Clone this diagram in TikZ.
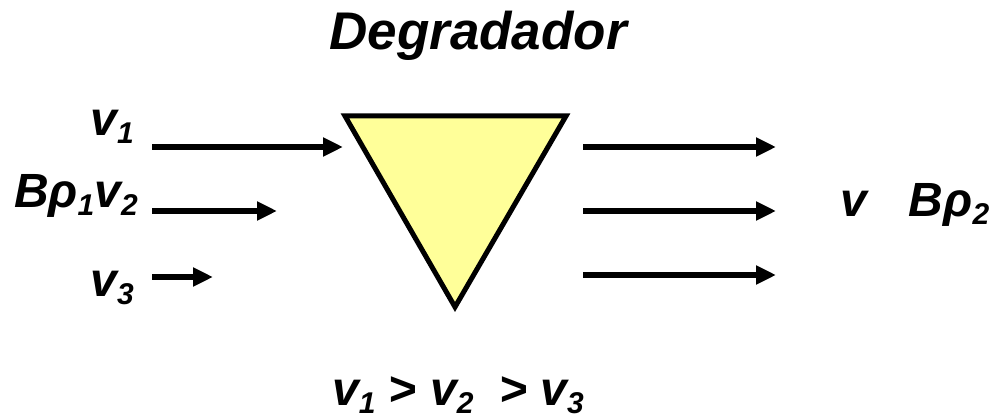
\documentclass[tikz,border=0pt]{standalone}
\usepackage{fontspec}
\setmainfont{Liberation Sans}
\usetikzlibrary{arrows.meta}
\definecolor{degyellow}{HTML}{FFFF99}
\newcommand{\sbx}[1]{\raisebox{-8pt}{\fontsize{30}{30}\selectfont #1}}
\begin{document}
\begin{tikzpicture}[x=1pt,y=-1pt,
  lbl/.style={inner sep=0pt,font=\fontsize{48}{54}\selectfont\bfseries\itshape},
  beam/.style={line width=5.5pt,-{Triangle[length=20pt,width=18pt]}}]
\useasboundingbox (0,0) rectangle (995,419);
% title
\node[lbl,anchor=base,font=\fontsize{53}{60}\selectfont\bfseries\itshape] (title) at (478,50) {Degradador};
% degrader
\draw[line width=5pt,line join=miter,fill=degyellow] (345,116) -- (566,116) -- (455,307) -- cycle;
\coordinate (deg) at (455,180);
% input beam
\coordinate (i1s) at (152,147); \coordinate (i1e) at (343,147);
\coordinate (i2s) at (152,211); \coordinate (i2e) at (277,211);
\coordinate (i3s) at (152,277); \coordinate (i3e) at (213,277);
\draw[beam] (i1s) -- (i1e);
\draw[beam] (i2s) -- (i2e);
\draw[beam] (i3s) -- (i3e);
% output beam
\coordinate (o1s) at (583,147); \coordinate (o1e) at (776,147);
\coordinate (o2s) at (583,211); \coordinate (o2e) at (776,211);
\coordinate (o3s) at (583,275); \coordinate (o3e) at (776,275);
\draw[beam] (o1s) -- (o1e);
\draw[beam] (o2s) -- (o2e);
\draw[beam] (o3s) -- (o3e);
% labels
\node[lbl,anchor=base east] (lv1) at (134,136) {v\sbx{1}};
\node[lbl,anchor=base east] (lv2) at (138,208) {Bρ\sbx{1}v\sbx{2}};
\node[lbl,anchor=base east] (lv3) at (134,297) {v\sbx{3}};
\node[lbl,anchor=base west] (rv) at (840,217) {v\hspace{42pt}Bρ\sbx{2}};
\node[lbl,anchor=base west] (cond) at (332,405) {v\sbx{1} > v\sbx{2}\hspace{12pt} > v\sbx{3}};
\end{tikzpicture}
\end{document}
